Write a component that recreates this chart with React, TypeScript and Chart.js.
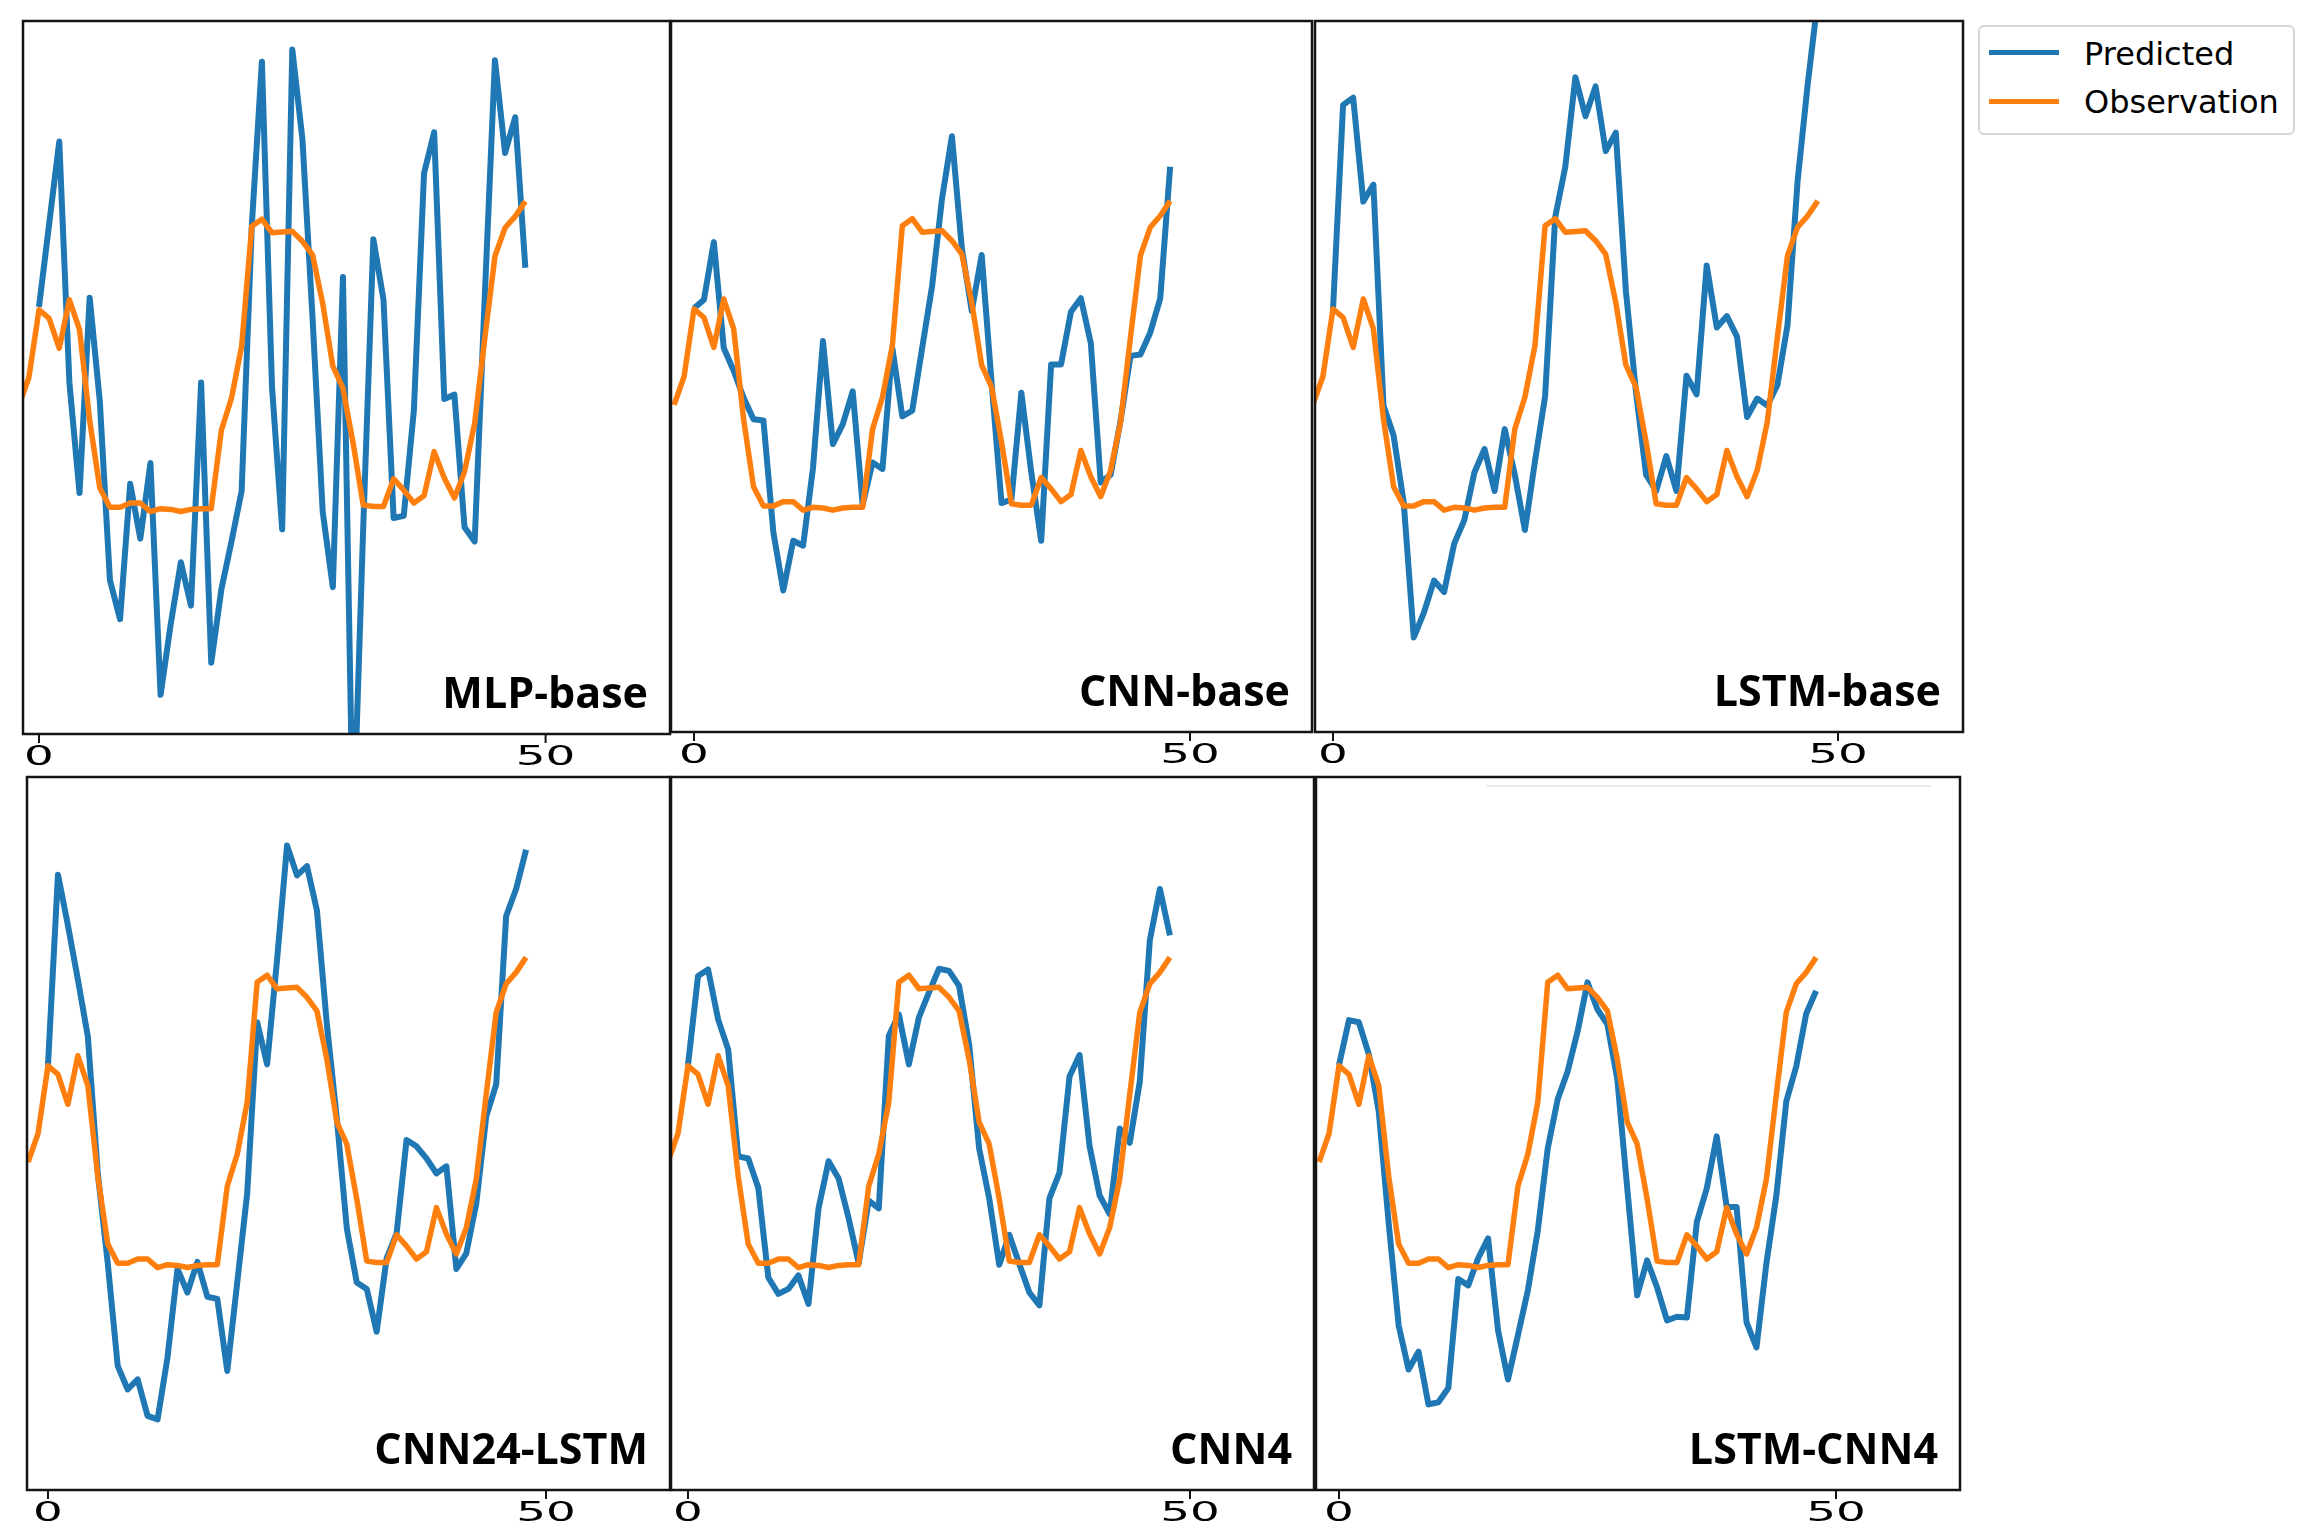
import React, { useEffect, useRef } from "react";
import { Chart, registerables } from "chart.js";

Chart.register(...registerables);

// ---------------- data ----------------
// Observation starts two steps before x = 0 (clipped at the left frame)
const observationStart = -2;
const observation = [
  46, 50, 59.5, 58.3, 54.1, 60.9, 56.7, 44, 34.5, 31.8, 31.8, 32.4, 32.4, 31.2, 31.6, 31.5, 31.2,
  31.5, 31.6, 31.6, 42.6, 47.1, 54.4, 71.2, 72.2, 70.3, 70.4, 70.5, 69.1, 67.2, 60.4, 51.6, 48.5,
  40.8, 32.1, 31.9, 31.9, 35.8, 34.2, 32.4, 33.4, 39.6, 35.9, 33.1, 36.8, 43.6, 55.5, 67.0, 71.0,
  72.6, 74.7,
];

const mlpBase = [
  59.9, 71.5, 83.1, 49.3, 33.8, 61.2, 46.7, 21.6, 16.1, 35.1, 27.4, 38.0, 5.5, 15.4, 24.1, 18.0,
  49.3, 10.0, 20.3, 27.0, 34.1, 71.2, 94.3, 48.6, 28.7, 96.0, 83.4, 58.3, 31.2, 20.6, 64.1, -15,
  29, 69.4, 60.9, 30.3, 30.6, 45.4, 78.6, 84.4, 47.0, 47.6, 29.0, 27.0, 61.5, 94.5, 81.5, 86.5,
  65.4,
];

const cnnBase = [
  59.6, 60.8, 68.9, 54.0, 50.8, 47.0, 44.0, 43.8, 28.1, 19.9, 26.9, 26.2, 37.2, 55.0, 40.5, 43.3,
  47.9, 32.0, 37.9, 37.0, 54.0, 44.4, 45.2, 54.0, 62.7, 75.0, 83.8, 68.0, 59.2, 67.1, 49.1, 32.2,
  32.7, 47.7, 36.5, 26.9, 51.7, 51.7, 59.1, 61.0, 54.7, 35.1, 36.2, 43.8, 52.9, 53.1, 56.2, 61.0,
  79.5,
];

const lstmBase = [
  59.4, 88.2, 89.2, 74.6, 77.0, 45.9, 41.7, 32.3, 13.3, 16.8, 21.3, 19.7, 26.5, 29.8, 36.5, 39.8,
  33.9, 42.6, 36.2, 28.4, 38.1, 47.2, 72.4, 79.5, 92.1, 86.6, 90.8, 81.7, 84.3, 62.0, 47.8, 36.2,
  33.9, 38.8, 33.9, 50.1, 47.5, 65.6, 56.9, 58.5, 55.6, 44.3, 46.9, 45.9, 48.8, 57.2, 77.5, 91.1,
  103,
];

const cnn24Lstm = [
  59.6, 86.3, 79.2, 71.6, 63.6, 44.4, 31.8, 17.4, 14.1, 15.5, 10.4, 9.9, 18.6, 31.0, 27.7, 32.0,
  27.1, 26.8, 16.7, 29.1, 41.6, 65.6, 59.7, 74.4, 90.4, 86.2, 87.5, 81.3, 65.3, 52.1, 36.7, 29.1,
  28.2, 22.2, 32.5, 36.0, 49.1, 48.2, 46.5, 44.4, 45.4, 31.0, 33.2, 40.2, 52.4, 56.9, 80.5, 84.3,
  89.8,
];

const cnn4 = [
  59.6, 72.1, 73.0, 66.0, 61.8, 46.8, 46.5, 42.4, 29.8, 27.5, 28.2, 30.1, 26.1, 39.5, 46.1, 43.7,
  38.1, 31.8, 40.6, 39.5, 63.7, 66.7, 59.7, 66.3, 69.8, 73.1, 72.8, 70.7, 62.5, 47.9, 40.9, 31.6,
  35.8, 31.7, 27.7, 25.9, 40.9, 44.5, 58.0, 61.0, 48.2, 41.3, 38.7, 50.7, 48.7, 57.3, 77.1, 84.3,
  77.8,
];

const lstmCnn4 = [
  59.6, 65.9, 65.6, 61.1, 53.1, 37.4, 23.1, 16.9, 19.4, 12.0, 12.3, 14.3, 29.6, 28.7, 32.5, 35.3,
  22.4, 15.5, 21.7, 28.0, 36.4, 47.9, 54.8, 58.7, 64.3, 71.2, 67.4, 65.3, 57.6, 42.3, 27.3, 32.2,
  28.4, 23.8, 24.3, 24.2, 37.6, 42.3, 49.6, 39.7, 39.7, 23.5, 20.0, 31.8, 41.3, 54.5, 59.4, 66.8,
  70.0,
];

const panelNames = ["MLP-base", "CNN-base", "LSTM-base", "CNN24-LSTM", "CNN4", "LSTM-CNN4"];
const predictedSeries = [mlpBase, cnnBase, lstmBase, cnn24Lstm, cnn4, lstmCnn4];
const xTickValues = [0, 50];
const legendLabels = ["Predicted", "Observation"];

// ---------------- style / layout ----------------
const BLUE = "#1f77b4";
const ORANGE = "#ff7f0e";

// frame box of each panel and the pixel positions of its ticks 0 and 50
const LAYOUT = [
  { left: 23, top: 21, right: 670, bottom: 734, t0: 39, t50: 545.6 },
  { left: 671, top: 21, right: 1312, bottom: 732, t0: 694, t50: 1190 },
  { left: 1315, top: 21, right: 1963, bottom: 732, t0: 1333, t50: 1838 },
  { left: 27, top: 777, right: 670, bottom: 1490, t0: 48, t50: 546 },
  { left: 671, top: 777, right: 1314, bottom: 1490, t0: 688, t50: 1190 },
  { left: 1316, top: 777, right: 1960, bottom: 1490, t0: 1339, t50: 1836 },
];

const PAD = 4;
const BOTTOM_SPACE = 60;

const decorPlugin = {
  id: "panelDecor",
  afterDraw(chart: any, _args: any, opts: any) {
    const { ctx, chartArea } = chart;
    const { left, top, right, bottom } = chartArea;
    ctx.save();
    // frame
    ctx.strokeStyle = "#141414";
    ctx.lineWidth = 2.5;
    ctx.strokeRect(left, top, right - left, bottom - top);
    // faint leftover line
    if (opts.faintLine) {
      ctx.strokeStyle = "#e2e2e2";
      ctx.lineWidth = 1.5;
      ctx.beginPath();
      ctx.moveTo(left + (right - left) * 0.265, top + 9);
      ctx.lineTo(left + (right - left) * 0.955, top + 9);
      ctx.stroke();
    }
    // ticks and labels
    const xs = chart.scales.x;
    ctx.strokeStyle = "#141414";
    ctx.fillStyle = "#000";
    xTickValues.forEach((t) => {
      const px = xs.getPixelForValue(t);
      ctx.lineWidth = 2;
      ctx.beginPath();
      ctx.moveTo(px, bottom);
      ctx.lineTo(px, bottom + 9);
      ctx.stroke();
      ctx.save();
      ctx.translate(px, bottom + 31);
      ctx.scale(1.8, 1);
      ctx.font = '26px "DejaVu Sans"';
      ctx.textAlign = "center";
      ctx.textBaseline = "alphabetic";
      ctx.fillText(String(t), 0, 0);
      ctx.restore();
    });
    // panel name
    ctx.font = 'bold 43px "Open Sans"';
    ctx.textAlign = "right";
    ctx.textBaseline = "alphabetic";
    ctx.fillStyle = "#000";
    ctx.fillText(opts.name, right - 22, bottom - 26);
    ctx.restore();
  },
};

function Panel({ index }: { index: number }) {
  const ref = useRef<HTMLCanvasElement | null>(null);
  const g = LAYOUT[index];
  const w = g.right - g.left + PAD * 2;
  const h = g.bottom - g.top + PAD + BOTTOM_SPACE;

  useEffect(() => {
    if (!ref.current) return;
    const ppu = (g.t50 - g.t0) / 50;
    const xMin = (g.left - g.t0) / ppu;
    const xMax = (g.right - g.t0) / ppu;
    const pred = predictedSeries[index];
    const chart = new Chart(ref.current, {
      type: "line",
      data: {
        datasets: [
          {
            label: legendLabels[0],
            data: pred.map((v, i) => ({ x: i, y: v })),
            borderColor: BLUE,
            backgroundColor: BLUE,
            borderWidth: 6,
            pointRadius: 0,
            tension: 0,
            order: 1,
            clip: 0,
          },
          {
            label: legendLabels[1],
            data: observation.map((v, i) => ({ x: i + observationStart, y: v })),
            borderColor: ORANGE,
            backgroundColor: ORANGE,
            borderWidth: 5.5,
            pointRadius: 0,
            tension: 0,
            order: 0,
            clip: 0,
          },
        ],
      },
      options: {
        animation: false,
        responsive: false,
        devicePixelRatio: 1,
        layout: { padding: { left: PAD, top: PAD, right: PAD, bottom: BOTTOM_SPACE } },
        elements: { line: { borderJoinStyle: "round", borderCapStyle: "butt" } },
        scales: {
          x: { type: "linear", min: xMin, max: xMax, display: false },
          y: { type: "linear", min: 0, max: 100, display: false },
        },
        plugins: {
          legend: { display: false },
          tooltip: { enabled: false },
          // @ts-ignore
          panelDecor: { name: panelNames[index], faintLine: index === 5 },
        },
      } as any,
      plugins: [decorPlugin],
    });
    return () => chart.destroy();
  }, []);

  return (
    <canvas
      ref={ref}
      width={w}
      height={h}
      style={{ position: "absolute", left: g.left - PAD, top: g.top - PAD, width: w, height: h }}
    />
  );
}

export default function App() {
  const legendColors = [BLUE, ORANGE];
  return (
    <div
      style={{
        position: "absolute",
        left: 0,
        top: 0,
        width: 2313,
        height: 1538,
        background: "#fff",
        overflow: "hidden",
      }}
    >
      {LAYOUT.map((_, i) => (
        <Panel key={i} index={i} />
      ))}
      <div
        style={{
          position: "absolute",
          left: 1978,
          top: 25,
          width: 313,
          height: 106,
          border: "2px solid #d6d6d6",
          borderRadius: 6,
          background: "#fff",
        }}
      />
      {legendLabels.map((lab, i) => (
        <React.Fragment key={lab}>
          <div
            style={{
              position: "absolute",
              left: 1989,
              top: 50 + i * 49,
              width: 70,
              height: 5,
              background: legendColors[i],
            }}
          />
          <div
            style={{
              position: "absolute",
              left: 2084,
              top: 38 + i * 48,
              font: '32px "DejaVu Sans"',
              lineHeight: "32px",
              color: "#000",
              whiteSpace: "nowrap",
            }}
          >
            {lab}
          </div>
        </React.Fragment>
      ))}
    </div>
  );
}
